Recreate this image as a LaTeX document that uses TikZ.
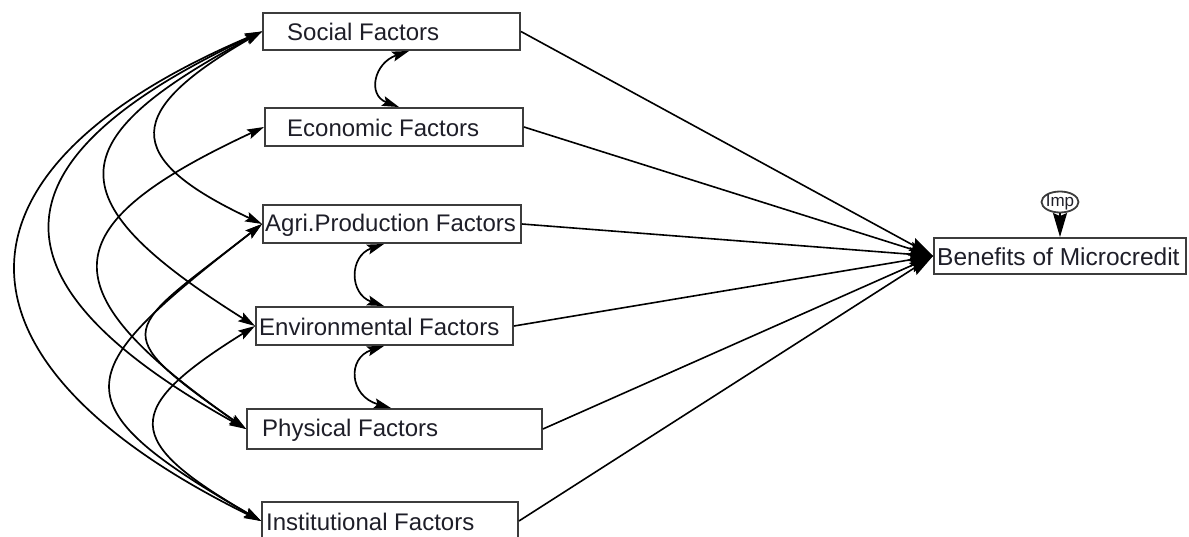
\documentclass[tikz,border=0pt]{standalone}
\usepackage{fontspec}
\setmainfont{Liberation Sans}
\usetikzlibrary{arrows.meta,shapes.geometric}
\definecolor{boxgray}{RGB}{60,60,60}
\definecolor{txt}{RGB}{30,30,40}
\begin{document}
\begin{tikzpicture}[x=1pt,y=-1pt,
  box/.style={draw=boxgray, line width=1.9pt, inner sep=0pt},
  lbl/.style={anchor=west, inner sep=0pt, font=\fontsize{24}{26}\selectfont, text=txt},
  cov/.style={line width=1.7pt, {Stealth[length=17pt,width=10pt,inset=3pt]}-{Stealth[length=17pt,width=10pt,inset=3pt]}},
  reg/.style={line width=1.6pt, -{Stealth[length=24pt,width=14pt,inset=3pt]}},
  errc/.style={draw=boxgray, line width=1.8pt, ellipse, inner sep=-2pt, minimum width=37pt, minimum height=21pt, font=\fontsize{17}{18}\selectfont, text=txt}
]
\useasboundingbox (0,0) rectangle (1189,537);

% boxes
\node[box, minimum width=257pt, minimum height=37pt] (S)  at (391.5,31.5) {};
\node[box, minimum width=258pt, minimum height=38pt] (E)  at (394,127) {};
\node[box, minimum width=258pt, minimum height=38pt] (A)  at (392,224) {};
\node[box, minimum width=257pt, minimum height=38pt] (En) at (384.5,326) {};
\node[box, minimum width=295pt, minimum height=40pt] (P)  at (394.5,429) {};
\node[box, minimum width=256pt, minimum height=38pt] (I)  at (390,521) {};
\node[box, minimum width=252pt, minimum height=36pt] (B)  at (1060,256) {};
\node[errc] (Imp) at (1060,202) {Imp};

% labels
\node[lbl] (tS)  at (287,31.5) {Social Factors};
\node[lbl] (tE)  at (287,128) {Economic Factors};
\node[lbl] (tA)  at (265,225) {Agri.Production Factors};
\node[lbl] (tEn) at (259,327) {Environmental Factors};
\node[lbl] (tP)  at (262,430) {Physical Factors};
\node[lbl] (tI)  at (266,522) {Institutional Factors};
\node[lbl, font=\fontsize{24.5}{26}\selectfont] (tB) at (937,257) {Benefits of Microcredit};

% regression paths
\draw[reg] (S.east) -- (B.west);
\draw[reg] (E.east) -- (B.west);
\draw[reg] (A.east) -- (B.west);
\draw[reg] (En.east) -- (B.west);
\draw[reg] (P.east) -- (B.west);
\draw[reg] (I.east) -- (B.west);
\draw[reg] (Imp.south) -- (B.north);

% middle covariances
\coordinate (se1) at ([xshift=147pt]S.south west);
\coordinate (se2) at ([xshift=135pt]E.north west);
\coordinate (ae1) at ([xshift=122pt]A.south west);
\coordinate (ae2) at ([xshift=129pt]En.north west);
\coordinate (ep1) at ([xshift=129pt]En.south west);
\coordinate (ep2) at ([xshift=145pt]P.north west);
\draw[cov] (se1) .. controls +(-35,12) and +(-32,-12) .. (se2);
\draw[cov] (ae1) .. controls +(-35,12) and +(-35,-12) .. (ae2);
\draw[cov] (ep1) .. controls +(-37,12) and +(-42,-12) .. (ep2);

% left covariances
\draw[cov] (S.west) .. controls +(-137,79) and +(-143,-67) .. (A.west);
\draw[cov] (S.west) .. controls +(-207,110) and +(-199,-125) .. (En.west);
\draw[cov] (S.west) .. controls +(-275,128) and +(-265,-147) .. (P.west);
\draw[cov] (S.west) .. controls +(-330,140) and +(-322,-158) .. (I.west);
\draw[cov] (E.west) .. controls +(-217,101) and +(-197,-138) .. (P.west);
\draw[cov] (A.west) .. controls +(-138,108) and +(-143,-100) .. (P.west);
\draw[cov] (A.west) .. controls +(-190,148) and +(-209,-120) .. (I.west);
\draw[cov] (En.west) .. controls +(-135,84) and +(-138,-80) .. (I.west);
\end{tikzpicture}
\end{document}
